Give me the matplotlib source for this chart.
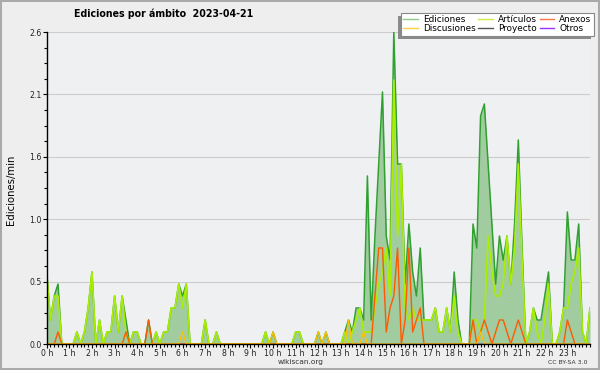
import matplotlib
matplotlib.use("Agg")
import matplotlib.pyplot as plt
from matplotlib.patches import Rectangle
from matplotlib.lines import Line2D
import numpy as np

# edits per minute, one value every 10 minutes (0:00 .. 24:00)
ediciones = [
    0.6, 0.2, 0.4, 0.5, 0, 0, 0, 0, 0.1, 0, 0.1, 0.3,
    0.6, 0, 0.2, 0, 0.1, 0.1, 0.4, 0.1, 0.4, 0.2, 0, 0.1,
    0.1, 0, 0, 0.2, 0, 0.1, 0, 0.1, 0.1, 0.3, 0.3, 0.5,
    0.4, 0.5, 0, 0, 0, 0, 0.2, 0, 0, 0.1, 0, 0,
    0, 0, 0, 0, 0, 0, 0, 0, 0, 0, 0.1, 0,
    0.1, 0, 0, 0, 0, 0, 0.1, 0.1, 0, 0, 0, 0,
    0.1, 0, 0.1, 0, 0, 0, 0, 0.1, 0.2, 0.1, 0.3, 0.3,
    0.2, 1.4, 0.2, 0.9, 1.5, 2.1, 0.9, 0.7, 2.6, 1.5, 1.5, 0.5,
    1.0, 0.6, 0.4, 0.8, 0.2, 0.2, 0.2, 0.3, 0.1, 0.1, 0.3, 0.1,
    0.6, 0.2, 0, 0, 0, 1.0, 0.8, 1.9, 2.0, 1.5, 1.0, 0.5,
    0.9, 0.7, 0.9, 0.5, 1.0, 1.7, 0.8, 0, 0.1, 0.3, 0.2, 0.2,
    0.4, 0.6, 0, 0, 0.1, 0.3, 1.1, 0.7, 0.7, 1.0, 0.1, 0,
    0.3,
]
articulos = [
    0.6, 0.2, 0.4, 0.4, 0, 0, 0, 0, 0.1, 0, 0.1, 0.3,
    0.6, 0, 0.2, 0, 0.1, 0.1, 0.4, 0.1, 0.4, 0.1, 0, 0.1,
    0.1, 0, 0, 0, 0, 0.1, 0, 0.1, 0.1, 0.3, 0.3, 0.5,
    0.3, 0.5, 0, 0, 0, 0, 0.2, 0, 0, 0.1, 0, 0,
    0, 0, 0, 0, 0, 0, 0, 0, 0, 0, 0.1, 0,
    0, 0, 0, 0, 0, 0, 0.1, 0.1, 0, 0, 0, 0,
    0, 0, 0, 0, 0, 0, 0, 0.1, 0, 0.1, 0.2, 0.3,
    0.1, 0.1, 0.1, 0.3, 0.5, 0.6, 0.8, 0.4, 2.2, 0.9, 1.5, 0.3,
    0.2, 0.3, 0.2, 0.2, 0.2, 0.2, 0.2, 0.3, 0.1, 0.1, 0.3, 0.1,
    0.4, 0.1, 0, 0, 0, 0.2, 0.2, 0.1, 0.2, 0.9, 0.6, 0.4,
    0.4, 0.5, 0.9, 0.5, 0.8, 1.5, 0.7, 0, 0.1, 0.3, 0.1, 0,
    0.2, 0.5, 0, 0, 0.1, 0.3, 0.3, 0.5, 0.6, 0.8, 0.1, 0,
    0.3,
]
anexos = [
    0, 0, 0, 0.1, 0, 0, 0, 0, 0, 0, 0, 0,
    0, 0, 0, 0, 0, 0, 0, 0, 0, 0.1, 0, 0,
    0, 0, 0, 0.2, 0, 0, 0, 0, 0, 0, 0, 0,
    0, 0, 0, 0, 0, 0, 0, 0, 0, 0, 0, 0,
    0, 0, 0, 0, 0, 0, 0, 0, 0, 0, 0, 0,
    0, 0, 0, 0, 0, 0, 0, 0, 0, 0, 0, 0,
    0, 0, 0, 0, 0, 0, 0, 0, 0, 0, 0, 0,
    0, 0, 0, 0.4, 0.8, 0.8, 0.1, 0.3, 0.4, 0.8, 0, 0.2,
    0.8, 0.1, 0.2, 0.3, 0, 0, 0, 0, 0, 0, 0, 0,
    0, 0, 0, 0, 0, 0.2, 0, 0.1, 0.2, 0.1, 0, 0.1,
    0.2, 0.2, 0.1, 0, 0.1, 0.2, 0.1, 0, 0, 0, 0, 0,
    0, 0, 0, 0, 0, 0, 0.2, 0.1, 0, 0, 0, 0,
    0,
]
discusiones = [
    0, 0, 0, 0, 0, 0, 0, 0, 0, 0, 0, 0,
    0, 0, 0, 0, 0, 0, 0, 0, 0, 0, 0, 0,
    0, 0, 0, 0, 0, 0, 0, 0, 0, 0, 0, 0,
    0.1, 0, 0, 0, 0, 0, 0, 0, 0, 0, 0, 0,
    0, 0, 0, 0, 0, 0, 0, 0, 0, 0, 0, 0,
    0.1, 0, 0, 0, 0, 0, 0, 0, 0, 0, 0, 0,
    0.1, 0, 0.1, 0, 0, 0, 0, 0, 0.2, 0, 0, 0,
    0.1, 0, 0, 0, 0, 0, 0, 0, 0, 0, 0, 0,
    0, 0, 0, 0, 0, 0, 0, 0, 0, 0, 0, 0,
    0, 0, 0, 0, 0, 0, 0, 0.1, 0, 0, 0, 0,
    0, 0, 0, 0, 0, 0, 0, 0, 0, 0, 0, 0,
    0, 0, 0, 0, 0, 0, 0, 0, 0, 0, 0, 0,
    0,
]
proyecto = [0] * 145
otros = [0] * 145

hours = [f"{h} h" for h in range(24)]
y_ticks = [0, 0.52, 1.04, 1.56, 2.08, 2.6]

t = np.arange(len(ediciones)) / 6.0

fig = plt.figure(figsize=(6, 3.7), dpi=100)
fig.patch.set_facecolor("#eeeeee")
ax = fig.add_axes([46.7 / 600, 26 / 370, 543.3 / 600, 312 / 370])
ax.set_facecolor("#eef0f2")

ax.fill_between(t, ediciones, color="#a0cca0", lw=0, zorder=1)
ax.plot(t, proyecto, color="#555555", lw=1.0, zorder=2)
ax.plot(t, otros, color="#9933ff", lw=1.0, zorder=2)
ax.plot(t, ediciones, color="#30a030", lw=1.1, zorder=3)
ax.plot(t, articulos, color="#aaee00", lw=1.2, zorder=4)
ax.plot(t, anexos, color="#ff5a00", lw=1.0, zorder=5)
ax.plot(t, discusiones, color="#ffc000", lw=1.0, zorder=6)

ax.set_xlim(0, 24)
ax.set_ylim(0, 2.6)
ax.set_xticks(range(24))
ax.set_xticklabels(hours)
ax.set_xticks(np.arange(0, 24.01, 1 / 6), minor=True)
ax.set_yticks(y_ticks)
ax.set_yticklabels([f"{v:.1f}" for v in y_ticks])
ax.set_yticks(np.arange(0, 2.61, 0.13), minor=True)
ax.grid(axis="y", color="#cccccc", lw=0.8, zorder=0)
ax.set_axisbelow(True)

for s in ["top", "right"]:
    ax.spines[s].set_visible(False)
for s in ["left", "bottom"]:
    ax.spines[s].set_color("black")
    ax.spines[s].set_linewidth(1.0)
    ax.spines[s].set_zorder(10)

ax.tick_params(which="major", direction="out", length=3, width=0.8,
               labelsize=5.6, labelcolor="#222222", pad=0.5)
ax.tick_params(which="minor", direction="out", length=2.5, width=0.8)

fig.text(164 / 600, 1 - 14 / 370, "Ediciones por ámbito  2023-04-21",
         ha="center", va="center", fontsize=7.6, fontweight="bold",
         fontstretch="condensed")
fig.text(11 / 600, 1 - 190 / 370, "Ediciones/min", rotation=90,
         ha="center", va="center", fontsize=7.3)
fig.text(300.5 / 600, 1 - 362 / 370, "wikiscan.org", ha="center", va="center",
         fontsize=5.3, color="#333333")
fig.text(568 / 600, 1 - 362.5 / 370, "CC BY-SA 3.0", ha="center", va="center",
         fontsize=4.4, color="#333333")

handles = [
    Line2D([], [], color="#88cc88", lw=1),
    Line2D([], [], color="#ffd040", lw=1),
    Line2D([], [], color="#ccee44", lw=1),
    Line2D([], [], color="#555555", lw=1),
    Line2D([], [], color="#ff7744", lw=1),
    Line2D([], [], color="#9933ff", lw=1),
]
labels = ["Ediciones", "Discusiones", "Artículos", "Proyecto", "Anexos", "Otros"]
leg = fig.legend(handles, labels, ncol=3, loc="upper right",
                 bbox_to_anchor=(594 / 600, 1 - 12.7 / 370), borderaxespad=0,
                 fontsize=6.4, handlelength=1.6, handletextpad=0.6,
                 columnspacing=0.3, labelspacing=0.0, borderpad=0.3,
                 fancybox=False, framealpha=1, edgecolor="#888888")
leg.get_frame().set_linewidth(0.8)
leg.set_zorder(20)

fig.canvas.draw()
bb = leg.get_window_extent().transformed(fig.transFigure.inverted())
fig.add_artist(Rectangle((bb.x0 - 3 / 600, bb.y0 - 3 / 370), bb.width, bb.height,
                         transform=fig.transFigure, facecolor="#8a8a8a",
                         edgecolor="none", zorder=19))
fig.add_artist(Rectangle((0, 0), 1, 1, transform=fig.transFigure, fill=False,
                         edgecolor="#aaaaaa", lw=2.9, zorder=30))

fig.savefig("out.png", dpi=100, facecolor=fig.get_facecolor())
